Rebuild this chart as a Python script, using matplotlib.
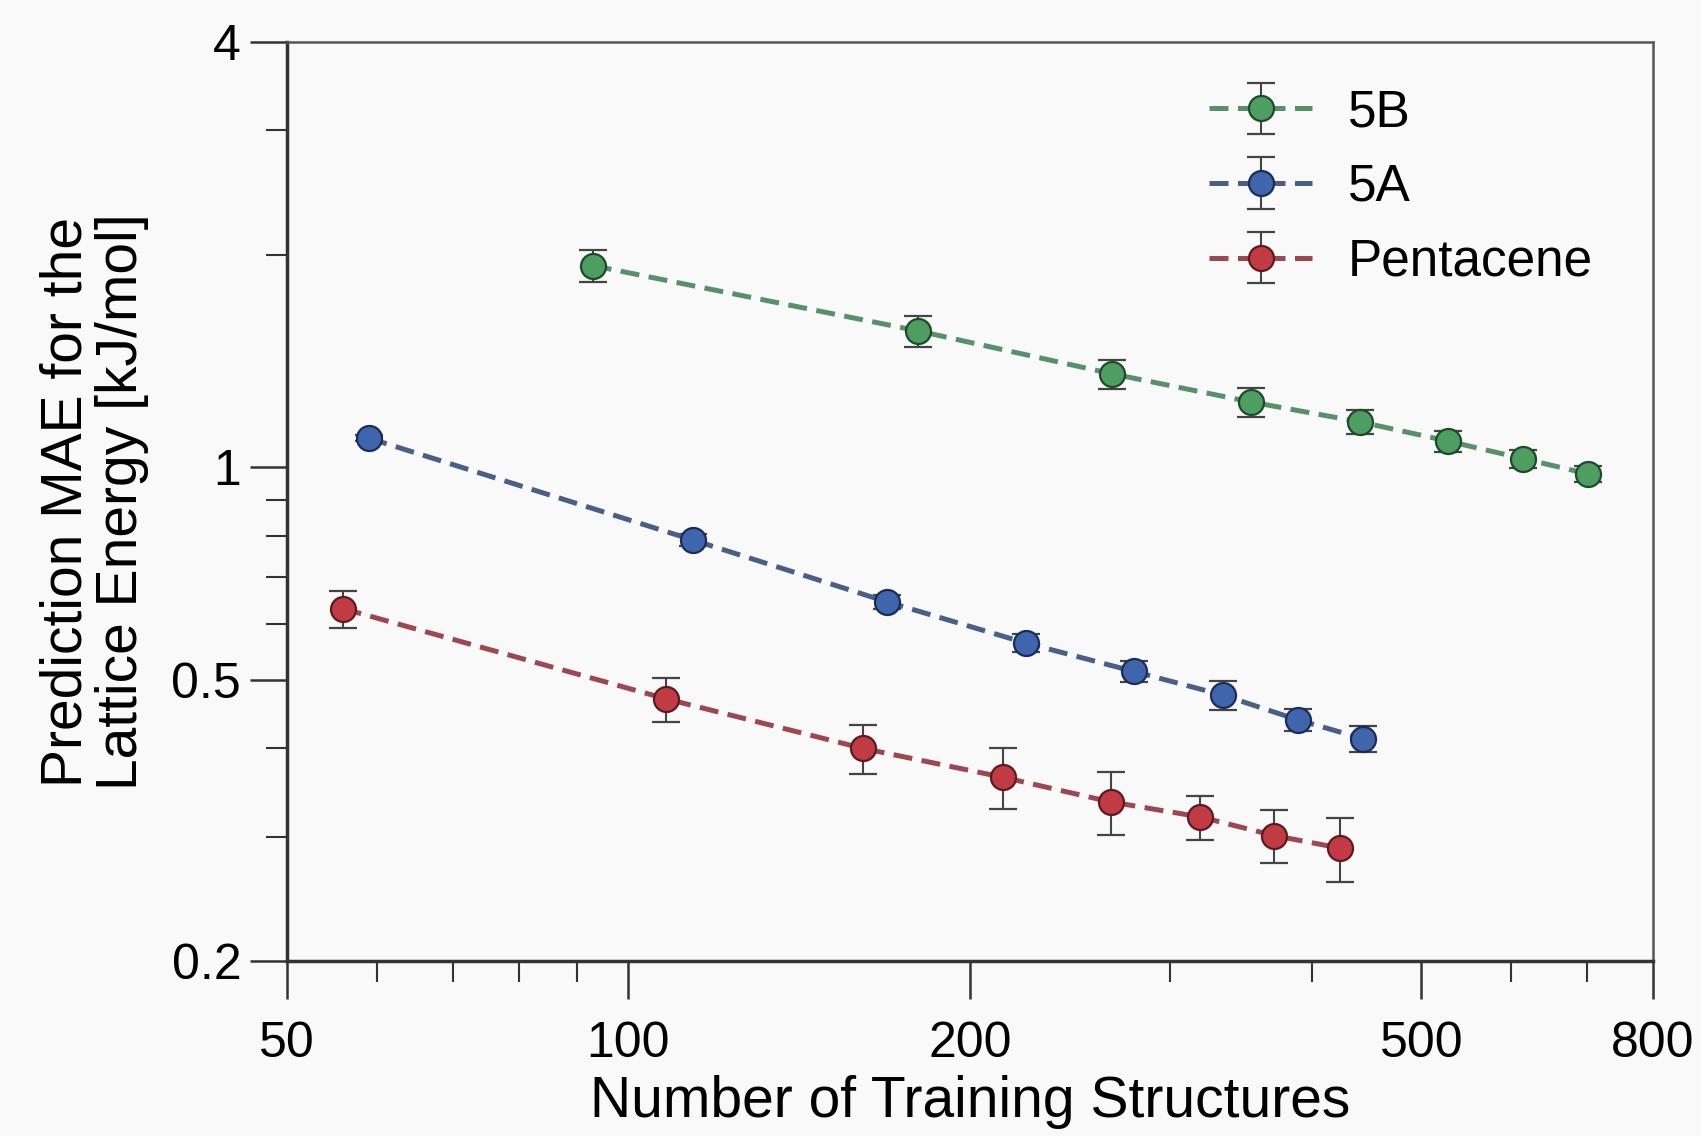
import numpy as np
import matplotlib
matplotlib.use('Agg')
import matplotlib.pyplot as plt
from matplotlib.ticker import FixedLocator, FixedFormatter, NullFormatter

plt.rcParams['font.family'] = ['Liberation Sans', 'DejaVu Sans']

# 5B
n_5b = [93, 180, 267, 354, 441, 528, 614, 701]
mae_5b = [1.93, 1.56, 1.356, 1.237, 1.16, 1.089, 1.029, 0.979]
err_5b = [0.10, 0.08, 0.065, 0.057, 0.046, 0.037, 0.03, 0.026]
# 5A
n_5a = [59, 114, 169, 224, 279, 334, 389, 444]
mae_5a = [1.10, 0.789, 0.645, 0.564, 0.514, 0.476, 0.439, 0.413]
err_5a = [0.012, 0.015, 0.014, 0.016, 0.018, 0.022, 0.016, 0.018]
# Pentacene
n_pen = [56, 108, 161, 214, 266, 319, 371, 424]
mae_pen = [0.631, 0.47, 0.40, 0.364, 0.336, 0.320, 0.301, 0.289]
err_pen = [0.038, 0.034, 0.032, 0.036, 0.034, 0.023, 0.026, 0.03]

xticks = [50, 100, 200, 500, 800]
xminor = [60, 70, 80, 90, 300, 400, 600, 700]
yticks = [0.2, 0.5, 1, 4]
ylabels = ['0.2', '0.5', '1', '4']
yminor = [0.3, 0.4, 0.6, 0.7, 0.8, 0.9, 2, 3]

bg = '#f9f9f9'
fig = plt.figure(figsize=(17.01, 11.36), dpi=100, facecolor=bg)
ax = fig.add_axes([0.1687, 0.154, 0.8031, 0.809], facecolor=bg)

series = [
    (n_5b, mae_5b, err_5b, '5B', '#4e9e62', '#1e4a2a', '#58906a'),
    (n_5a, mae_5a, err_5a, '5A', '#3f66ad', '#1b2d57', '#4a5f86'),
    (n_pen, mae_pen, err_pen, 'Pentacene', '#c23a44', '#5a1c20', '#9e4750'),
]
for x, y, e, lab, fc, ec, lc in series:
    ax.errorbar(x, y, yerr=e, fmt='o', linestyle=(0, (3.8, 1.9)), color=lc, lw=3.6,
                markersize=18, markerfacecolor=fc, markeredgecolor=ec, markeredgewidth=1.6,
                ecolor='#444444', elinewidth=1.5, capsize=10, capthick=1.5, label=lab)

ax.set_xscale('log')
ax.set_yscale('log')
ax.set_xlim(50, 800)
ax.set_ylim(0.2, 4)

ax.xaxis.set_major_locator(FixedLocator(xticks))
ax.xaxis.set_major_formatter(FixedFormatter([str(v) for v in xticks]))
ax.xaxis.set_minor_locator(FixedLocator(xminor))
ax.xaxis.set_minor_formatter(NullFormatter())
ax.yaxis.set_major_locator(FixedLocator(yticks))
ax.yaxis.set_major_formatter(FixedFormatter(ylabels))
ax.yaxis.set_minor_locator(FixedLocator(yminor))
ax.yaxis.set_minor_formatter(NullFormatter())

ax.tick_params(which='major', direction='out', length=27, width=1.8, color='#333333',
               labelsize=36)
ax.tick_params(axis='x', which='major', pad=16)
ax.tick_params(axis='y', which='major', pad=6)
ax.tick_params(which='minor', direction='out', length=15, width=1.5, color='#333333')

for s in ['left', 'bottom']:
    ax.spines[s].set_linewidth(2.5)
    ax.spines[s].set_color('#333333')
for s in ['top', 'right']:
    ax.spines[s].set_linewidth(1.8)
    ax.spines[s].set_color('#555555')

ax.set_xlabel('Number of Training Structures', fontsize=41, labelpad=6)
ax.set_ylabel('Prediction MAE for the\nLattice Energy [kJ/mol]', fontsize=41,
              labelpad=16, linespacing=1.05)

ax.legend(loc='upper right', frameon=False, fontsize=37, handlelength=2.0,
          handletextpad=0.7, labelspacing=0.5, bbox_to_anchor=(0.99, 1.0))

fig.savefig('out.png', dpi=100, facecolor=bg)
